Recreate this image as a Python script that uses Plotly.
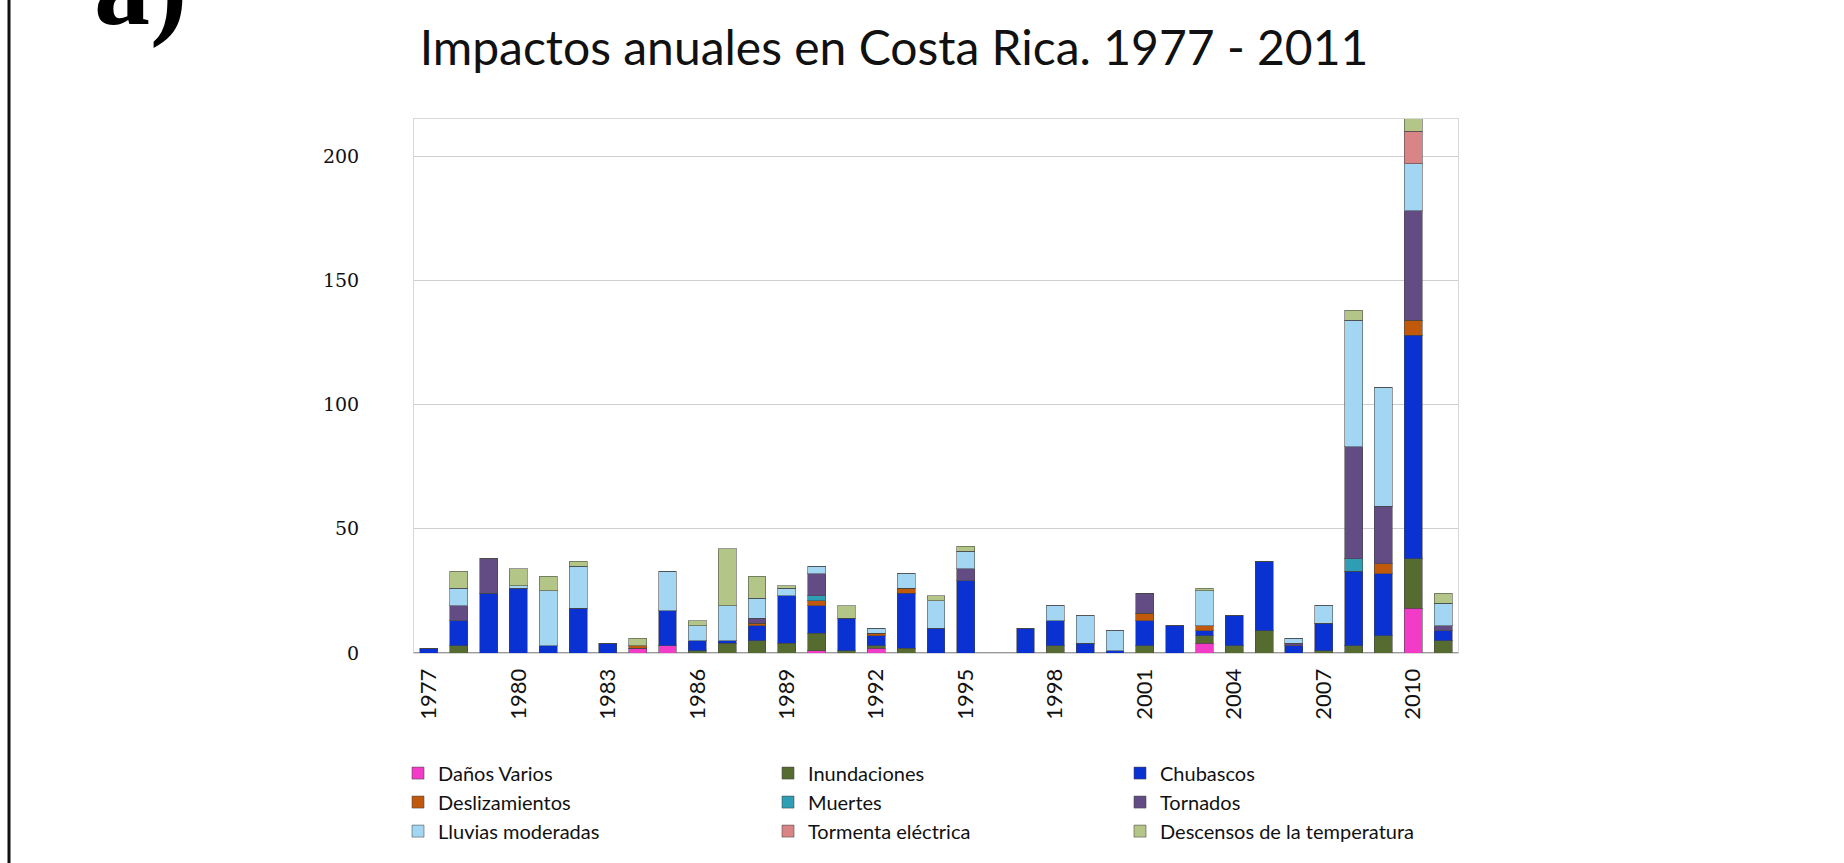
import plotly.graph_objects as go

years = list(range(1977, 2012))

# values per year 1977..2011 (35 entries)
danos_varios = [0,0,0,0,0,0,0,2,3,0,0,0,0,1,0,2,0,0,0,0,0,0,0,0,0,0,4,0,0,0,0,0,0,18,0]
inundaciones = [0,3,0,0,0,0,0,0,0,1,4,5,4,7,1,1,2,0,0,0,0,3,0,0,3,0,3,3,9,0,1,3,7,20,5]
chubascos    = [2,10,24,26,3,18,4,0,14,4,1,6,19,11,13,4,22,10,29,0,10,10,4,1,10,11,2,12,28,3,11,30,25,90,4]
deslizamientos=[0,0,0,0,0,0,0,1,0,0,0,1,0,2,0,1,2,0,0,0,0,0,0,0,3,0,2,0,0,0,0,0,4,6,0]
muertes      = [0,0,0,0,0,0,0,0,0,0,0,0,0,2,0,0,0,0,0,0,0,0,0,0,0,0,0,0,0,0,0,5,0,0,0]
tornados     = [0,6,14,0,0,0,0,0,0,0,0,2,0,9,0,0,0,0,5,0,0,0,0,0,8,0,0,0,0,1,0,45,23,44,2]
lluvias      = [0,7,0,1,22,17,0,0,16,6,14,8,3,3,0,2,6,11,7,0,0,6,11,8,0,0,14,0,0,2,7,51,48,19,9]
tormenta     = [0,0,0,0,0,0,0,0,0,0,0,0,0,0,0,0,0,0,0,0,0,0,0,0,0,0,0,0,0,0,0,0,0,13,0]
descensos    = [0,7,0,7,6,2,0,3,0,2,23,9,1,0,5,0,0,2,2,0,0,0,0,0,0,0,1,0,0,0,0,4,0,6,4]

series = [
    ("Daños Varios", danos_varios, "#F23CC8", "legend"),
    ("Inundaciones", inundaciones, "#566B2F", "legend2"),
    ("Chubascos", chubascos, "#0A32D2", "legend3"),
    ("Deslizamientos", deslizamientos, "#C0590C", "legend"),
    ("Muertes", muertes, "#2E9EB5", "legend2"),
    ("Tornados", tornados, "#634C84", "legend3"),
    ("Lluvias moderadas", lluvias, "#A3D6F2", "legend"),
    ("Tormenta eléctrica", tormenta, "#D98585", "legend2"),
    ("Descensos de la temperatura", descensos, "#B3C688", "legend3"),
]

fig = go.Figure()
for i, (name, vals, col, leg) in enumerate(series):
    fig.add_trace(go.Bar(
        x=years, y=vals, name=name, width=0.6,
        marker=dict(color=col, line=dict(color="rgba(70,70,70,0.55)", width=1)),
        legend=leg, legendgroup=name,
    ))

W, H = 1844, 863
L, R, T, B = 414, 386, 119, 208
pw, ph = W - L - R, H - T - B

def px(xf):
    return (xf - L) / pw

def py(yf):
    return (H - B - yf) / ph

legfont = dict(family="Lato", size=20, color="#111")
common = dict(orientation="v", traceorder="normal", font=legfont,
              yanchor="top", xanchor="left", bgcolor="rgba(0,0,0,0)",
              tracegroupgap=4, itemwidth=30)
fig.update_layout(
    width=W, height=H,
    margin=dict(l=L, r=R, t=T, b=B, pad=0),
    paper_bgcolor="white", plot_bgcolor="white",
    barmode="stack", bargap=0.4,
    title=dict(text="Impactos anuales en Costa Rica. 1977 - 2011",
               font=dict(family="Lato", size=48, color="#111"),
               x=894 / W, xanchor="center", y=1 - 48 / H, yanchor="middle"),
    xaxis=dict(range=[1976.5, 2011.5], tickmode="array",
               tickvals=years[::3], ticktext=[str(y) for y in years[::3]],
               tickangle=-90, tickfont=dict(family="Lato", size=22, color="#111"),
               showgrid=False, showline=True, linecolor="#D8D8D8", mirror=True,
               ticks="", ticklabelstandoff=6, zeroline=False),
    yaxis=dict(range=[0, 215], tickvals=[0, 50, 100, 150, 200],
               tickfont=dict(family="DejaVu Serif", size=19, color="#111"),
               showgrid=True, gridcolor="#CFCFCF", gridwidth=1,
               showline=True, linecolor="#D8D8D8", mirror=True,
               zeroline=True, zerolinecolor="#9A9A9A", zerolinewidth=1.5,
               ticks="", ticklabelstandoff=50),
    legend=dict(x=px(398), y=py(756), **common),
    legend2=dict(x=px(768), y=py(756), **common),
    legend3=dict(x=px(1120), y=py(756), **common),
    showlegend=True,
)

# left page border
fig.add_shape(type="line", xref="paper", yref="paper",
              x0=px(9), x1=px(9), y0=py(H + 5), y1=py(-5),
              line=dict(color="#111", width=3))

# panel label (top is cut off in the original figure as well)
fig.add_annotation(text="<b>a)</b>", xref="paper", yref="paper",
                   x=px(92), y=py(50), xanchor="left", yanchor="bottom",
                   showarrow=False,
                   font=dict(family="Liberation Serif", size=112, color="#000"))

fig.write_html("out.html")
